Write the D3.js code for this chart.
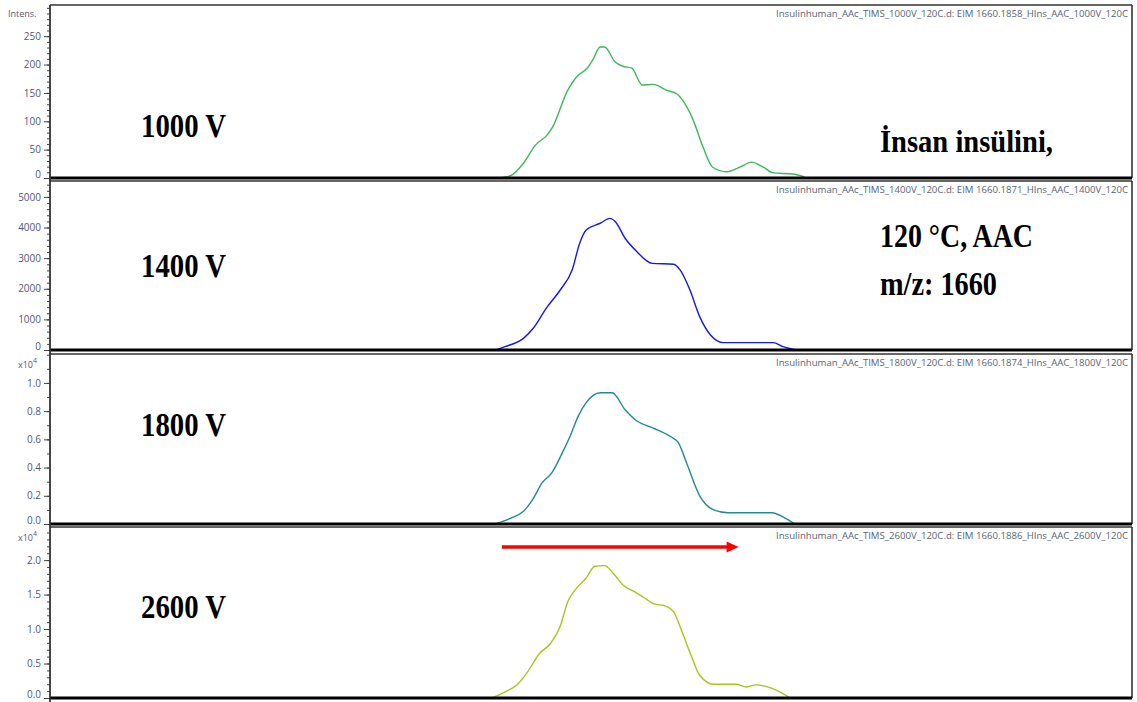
<!DOCTYPE html>
<html>
<head>
<meta charset="utf-8">
<script src="https://cdn.jsdelivr.net/npm/d3@7"></script>
<style>
  html, body { margin: 0; padding: 0; background: #fff; }
  svg { display: block; }
</style>
</head>
<body>
<svg id="chart" width="1137" height="702"></svg>
<script>
// ---------------- DATA ----------------
const voltageLabels = ["1000 V", "1400 V", "1800 V", "2600 V"];
const fileLabels = [
  "Insulinhuman_AAc_TIMS_1000V_120C.d: EIM 1660.1858_HIns_AAC_1000V_120C",
  "Insulinhuman_AAc_TIMS_1400V_120C.d: EIM 1660.1871_HIns_AAC_1400V_120C",
  "Insulinhuman_AAc_TIMS_1800V_120C.d: EIM 1660.1874_HIns_AAC_1800V_120C",
  "Insulinhuman_AAc_TIMS_2600V_120C.d: EIM 1660.1886_HIns_AAC_2600V_120C"
];
const annotationLines = ["İnsan insülini,", "120 °C, AAC", "m/z: 1660"];

// mobility scan (arbitrary units) and intensities
const x1000 = [413,426,438,449,460,465,479,487,497,502,509,513,523,530,538,548,558,570,580,587,595,604,613,626,638,649,660,669,687,698];
const y1000 = [0,4,26,58,76,90,155,178,194,208,231,231,204,197,194,164,165,155,148,132,102,55,19,11,19,28,19,9,7,2];

const x1400 = [412,421,438,447,459,472,483,490,496,509,518,523,532,543,557,577,583,592,601,611,623,669,678,691];
const y1400 = [0,110,380,710,1360,1960,2610,3490,3920,4140,4300,4190,3650,3210,2830,2800,2610,1960,1090,490,240,240,110,0];

const x1800 = [412,426,438,447,455,464,473,481,489,496,509,520,532,543,558,574,581,589,601,614,627,668,678,689];
const y1800 = [0,0.04,0.09,0.18,0.29,0.36,0.49,0.62,0.77,0.86,0.93,0.93,0.81,0.73,0.68,0.62,0.58,0.43,0.20,0.10,0.08,0.08,0.05,0];

const x2600 = [409,421,432,441,453,463,472,479,487,496,504,513,521,530,541,550,558,570,577,584,594,601,614,635,644,653,666,675,685];
const y2600 = [0,0.09,0.19,0.36,0.65,0.79,1.04,1.40,1.59,1.74,1.91,1.92,1.81,1.64,1.54,1.45,1.37,1.33,1.25,0.99,0.58,0.33,0.20,0.20,0.16,0.19,0.15,0.09,0];

// y-axis tick values (major / minor) per panel and domain top
const ticksMajor1000 = [0,50,100,150,200,250];
const ticksMajor1400 = [0,1000,2000,3000,4000,5000];
const ticksMajor1800 = [0,0.2,0.4,0.6,0.8,1.0];
const ticksMajor2600 = [0,0.5,1.0,1.5,2.0];
const minorStep = [10, 200, 0.1, 0.1];
const yTop = [305, 5520, 1.205, 2.48];
const tickFormats = ["d", "d", ".1f", ".1f"];
const yUnitLabels = ["Intens.", "", "x10", "x10"];

// arrow annotation (in panel 4 data units)
const arrowStartX = 418, arrowEndX = 637, arrowLevel = 2.19;

const xDomain = [0, 1000];

// ---------------- LAYOUT ----------------
const W = 1137, H = 702;
const left = 50, right = 1132;
const panelTop = [5, 181, 354, 527];
const panelZero = [178, 350, 524, 698];
const colors = ["#3db95a", "#1515f5", "#208c8c", "#a5c61e"];

const svg = d3.select("#chart");
const x = d3.scaleLinear().domain(xDomain).range([left, left + 1081]);

const xs = [x1000, x1400, x1800, x2600];
const ys = [y1000, y1400, y1800, y2600];
const majors = [ticksMajor1000, ticksMajor1400, ticksMajor1800, ticksMajor2600];

const voltBaselines = [137, 277, 436, 618];

for (let i = 0; i < 4; i++) {
  const y = d3.scaleLinear().domain([0, yTop[i]]).range([panelZero[i], panelTop[i]]);
  const g = svg.append("g");

  // frame: top and right border
  g.append("line").attr("x1", left).attr("x2", right).attr("y1", panelTop[i]).attr("y2", panelTop[i])
    .attr("stroke", "#333").attr("stroke-width", 1.6);
  g.append("line").attr("x1", right).attr("x2", right).attr("y1", panelTop[i]).attr("y2", panelZero[i])
    .attr("stroke", "#333").attr("stroke-width", 1.6);

  // minor ticks
  const minors = d3.range(0, yTop[i] + 1e-9, minorStep[i]).map(v => +v.toFixed(4));
  const minorAxis = d3.axisLeft(y).tickValues(minors).tickSize(3).tickFormat("");
  const ma = g.append("g").attr("transform", `translate(${left},0)`).call(minorAxis);
  ma.select(".domain").remove();
  ma.selectAll("line").attr("stroke", "#444");

  // major ticks
  const majorAxis = d3.axisLeft(y).tickValues(majors[i]).tickSize(6).tickPadding(3)
    .tickFormat(d3.format(tickFormats[i]));
  const mj = g.append("g").attr("transform", `translate(${left},0)`).call(majorAxis);
  mj.select(".domain").remove();
  mj.selectAll("line").attr("stroke", "#444");
  mj.selectAll("text").attr("fill", "#55557a").style("font-family", "'Open Sans', 'DejaVu Sans', sans-serif")
    .style("font-size", "10px");
  mj.selectAll("text").filter(d => d === 0).attr("dy", "-0.05em");

  // curve
  const pts = xs[i].map((v, k) => [v, ys[i][k]]);
  const line = d3.line().x(d => x(d[0])).y(d => y(d[1])).curve(d3.curveMonotoneX);
  g.append("path").datum(pts).attr("d", line).attr("fill", "none")
    .attr("stroke", colors[i]).attr("stroke-width", 1.4);

  // baseline (thick)
  g.append("line").attr("x1", left).attr("x2", right).attr("y1", panelZero[i]).attr("y2", panelZero[i])
    .attr("stroke", "#000").attr("stroke-width", 3.2);

  // file label
  g.append("text").attr("x", 1128).attr("y", panelTop[i] + 12)
    .attr("text-anchor", "end").attr("fill", "#5a6478")
    .style("font-family", "'Open Sans', 'DejaVu Sans', sans-serif").style("font-size", "9px")
    .attr("textLength", 352).attr("lengthAdjust", "spacingAndGlyphs")
    .text(fileLabels[i]);

  // voltage label
  g.append("text").attr("x", 141).attr("y", voltBaselines[i])
    .style("font-family", "'Liberation Serif', 'Times New Roman', serif").style("font-weight", "bold")
    .style("font-size", "34px").attr("fill", "#000")
    .attr("textLength", 85).attr("lengthAdjust", "spacingAndGlyphs")
    .text(voltageLabels[i]);

  // unit label
  if (yUnitLabels[i] === "Intens.") {
    g.append("text").attr("x", 8).attr("y", panelTop[i] + 12).attr("fill", "#55557a")
      .style("font-family", "'Open Sans', 'DejaVu Sans', sans-serif").style("font-size", "9px")
      .text(yUnitLabels[i]);
  } else if (yUnitLabels[i] === "x10") {
    const t = g.append("text").attr("x", 18).attr("y", panelTop[i] + 14).attr("fill", "#55557a")
      .style("font-family", "'Open Sans', 'DejaVu Sans', sans-serif").style("font-size", "9px");
    t.append("tspan").text(yUnitLabels[i]);
    t.append("tspan").attr("dy", -5).style("font-size", "7px").text("4");
  }

  if (i === 3) {
    // arrow
    const ay = y(arrowLevel);
    const headLen = 12;
    g.append("line").attr("x1", x(arrowStartX)).attr("x2", x(arrowEndX) - headLen + 1)
      .attr("y1", ay).attr("y2", ay).attr("stroke", "#ff0000").attr("stroke-width", 3.6);
    g.append("path")
      .attr("d", `M${x(arrowEndX)},${ay} L${x(arrowEndX) - headLen},${ay - 5.5} L${x(arrowEndX) - headLen},${ay + 5.5} Z`)
      .attr("fill", "#ff0000");
  }
}

// continuous y-axis line
svg.append("line").attr("x1", left).attr("x2", left).attr("y1", panelTop[0]).attr("y2", H)
  .attr("stroke", "#333").attr("stroke-width", 1.8);

// annotation text
const annX = 880;
const annBaselines = [152, 247, 295];
const annSizes = [31, 34, 34];
const annWidths = [173, 153, 117];
annotationLines.forEach((t, k) => {
  svg.append("text").attr("x", annX).attr("y", annBaselines[k])
    .style("font-family", "'Liberation Serif', 'Times New Roman', serif").style("font-weight", "bold")
    .style("font-size", annSizes[k] + "px").attr("fill", "#000")
    .attr("textLength", annWidths[k]).attr("lengthAdjust", "spacingAndGlyphs")
    .text(t);
});
</script>
</body>
</html>
